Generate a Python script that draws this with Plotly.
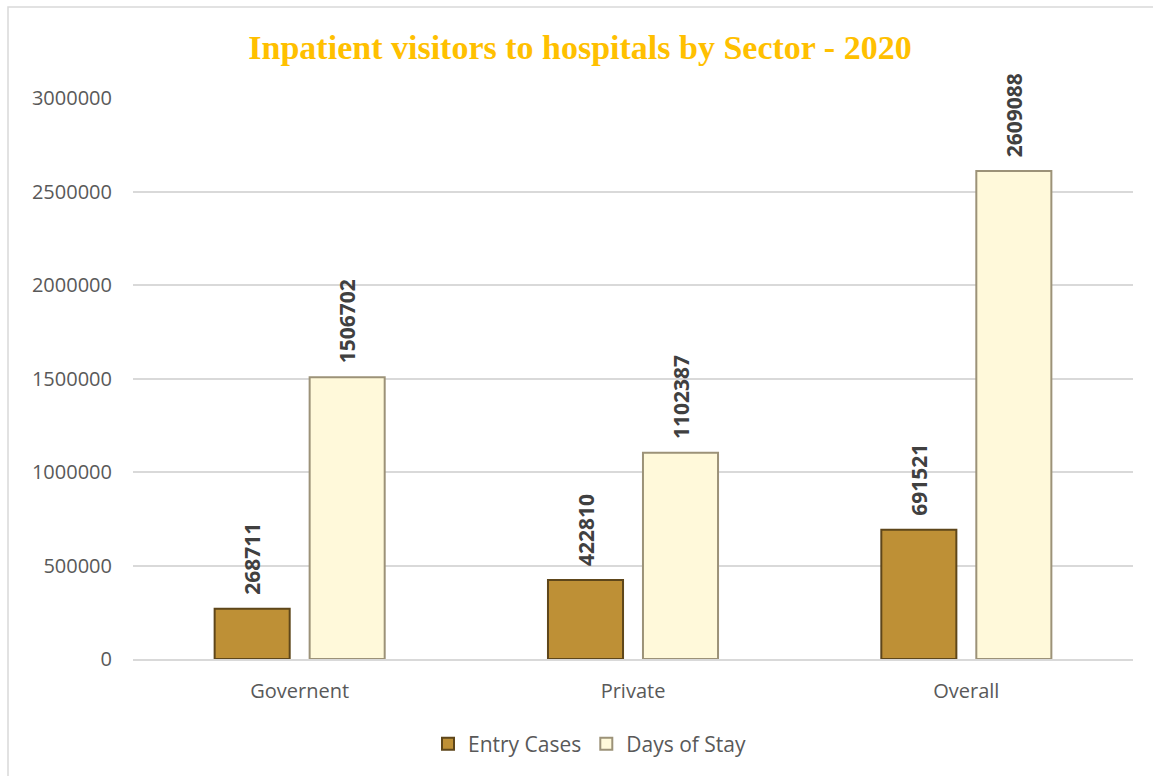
import plotly.graph_objects as go

categories = ["Governent", "Private", "Overall"]
entry_cases = [268711, 422810, 691521]
days_of_stay = [1506702, 1102387, 2609088]
y_ticks = [0, 500000, 1000000, 1500000, 2000000, 2500000, 3000000]

W, H = 1153, 776
ml, mr, mt, mb = 133, 20, 98, 117
pw, ph = W - ml - mr, H - mt - mb

fig = go.Figure()
lab_font = dict(family="Open Sans", size=21, color="#404040", weight="bold")
fig.add_trace(go.Bar(
    name="Entry Cases", x=categories, y=entry_cases,
    marker=dict(color="#BE9036", line=dict(color="#5E461A", width=2)),
    text=[f"\u00a0\u00a0{v}" for v in entry_cases], textposition="outside",
    textangle=-90, textfont=lab_font, cliponaxis=False, constraintext="none",
))
fig.add_trace(go.Bar(
    name="Days of Stay", x=categories, y=days_of_stay,
    marker=dict(color="#FFF9DA", line=dict(color="#9C9278", width=2)),
    text=[f"\u00a0\u00a0{v}" for v in days_of_stay], textposition="outside",
    textangle=-90, textfont=lab_font, cliponaxis=False, constraintext="none",
))

fig.update_layout(
    width=W, height=H,
    margin=dict(l=ml, r=mr, t=mt, b=mb, autoexpand=False),
    paper_bgcolor="white", plot_bgcolor="white",
    barmode="group", bargap=0.43, bargroupgap=0.21,
    title=dict(text="<b>Inpatient visitors to hospitals by Sector - 2020</b>",
               x=580 / W, xref="container", xanchor="center", y=1 - 47 / H, yanchor="middle",
               font=dict(family="Liberation Serif", size=34, color="#FFC000")),
    font=dict(family="Open Sans", color="#595959"),
    xaxis=dict(showgrid=False, showline=True, linecolor="#D9D9D9", linewidth=1.5,
               ticks="", ticklabelstandoff=13, tickfont=dict(size=20, color="#595959")),
    yaxis=dict(range=[0, 3000000], tickvals=y_ticks, tickformat="d",
               showgrid=True, gridcolor="#D9D9D9", gridwidth=1.5, zeroline=False,
               showline=False, ticks="", ticklabelstandoff=20,
               tickfont=dict(size=20, color="#595959")),
    legend=dict(orientation="h", x=(590 - ml) / pw, xanchor="center", y=-(744 - 659) / ph,
                yanchor="middle", font=dict(size=21, color="#595959"), itemwidth=30,
                traceorder="normal"),
    shapes=[dict(type="rect", xref="paper", yref="paper",
                 x0=(8 - ml) / pw, x1=(W + 5 - ml) / pw,
                 y0=-(H + 5 - mt - ph) / ph, y1=(H - 7 - mb) / ph,
                 line=dict(color="#D9D9D9", width=1.5), fillcolor="rgba(0,0,0,0)", layer="below")],
)

fig.write_html("out.html", config={"displayModeBar": False},
               post_script="document.body.style.margin='0';document.body.style.padding='0';")
